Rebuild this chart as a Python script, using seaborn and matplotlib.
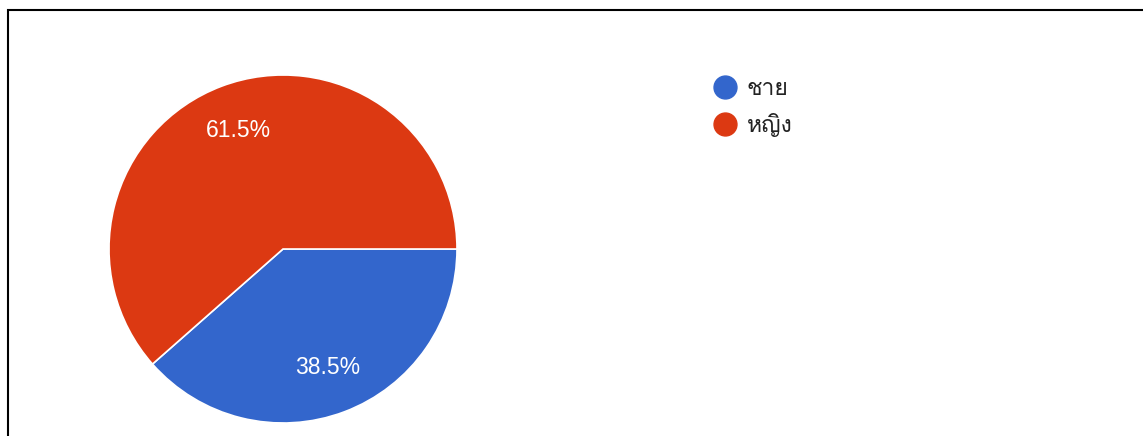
import matplotlib
matplotlib.use("Agg")
import matplotlib.pyplot as plt
import seaborn as sns
from matplotlib import font_manager
from matplotlib.ft2font import FT2Font
from matplotlib.lines import Line2D
from matplotlib.patches import Rectangle

# --- data ---
labels = ["ชาย", "หญิง"]
values = [38.5, 61.5]
colors = ["#3366cc", "#dc3912"]

# --- find a font that has Thai glyphs ---
def find_thai_font():
    seen = set()
    for f in font_manager.fontManager.ttflist:
        if f.name in seen:
            continue
        seen.add(f.name)
        try:
            cmap = FT2Font(f.fname).get_charmap()
        except Exception:
            continue
        if ord("ช") in cmap and ord("ญ") in cmap:
            return f.name
    return None

sns.set_theme(style="white")
thai = find_thai_font()
fams = ["Liberation Sans", "DejaVu Sans"]
if thai:
    fams = ["Liberation Sans", thai, "DejaVu Sans"]
plt.rcParams["font.family"] = fams

fig = plt.figure(figsize=(11.43, 4.36), dpi=100)
fig.patch.set_facecolor("white")

W, H = 1143, 436
ax = fig.add_axes([109 / W, (H - 423) / H, 348 / W, 348 / H])
wedges, texts, autotexts = ax.pie(
    values,
    colors=colors,
    startangle=0,
    counterclock=False,
    autopct="%.1f%%",
    pctdistance=0.73,
    wedgeprops=dict(edgecolor="white", linewidth=1.2),
    textprops=dict(color="white", fontsize=16.5),
)
ax.set_xlim(-1, 1)
ax.set_ylim(-1, 1)
ax.set_aspect("equal")
ax.axis("off")

handles = [Line2D([], [], marker="o", linestyle="", markersize=16.5,
                  markerfacecolor=c, markeredgecolor=c) for c in colors]
leg = fig.legend(handles, labels, loc="upper left",
                 bbox_to_anchor=(700 / W, 1 - 68 / H),
                 frameon=False, fontsize=16.5, handletextpad=0.35,
                 labelspacing=0.55, borderpad=0, handlelength=1.2)
for t in leg.get_texts():
    t.set_color("#222222")
    if thai:
        t.set_family([thai, "DejaVu Sans"])

# frame around the chart
fig.patches.append(Rectangle((8 / W, -0.2), 1.5, (H - 10) / H + 0.2,
                             transform=fig.transFigure, fill=False,
                             edgecolor="black", linewidth=1.5))

fig.savefig("out.png", dpi=100, facecolor="white")
